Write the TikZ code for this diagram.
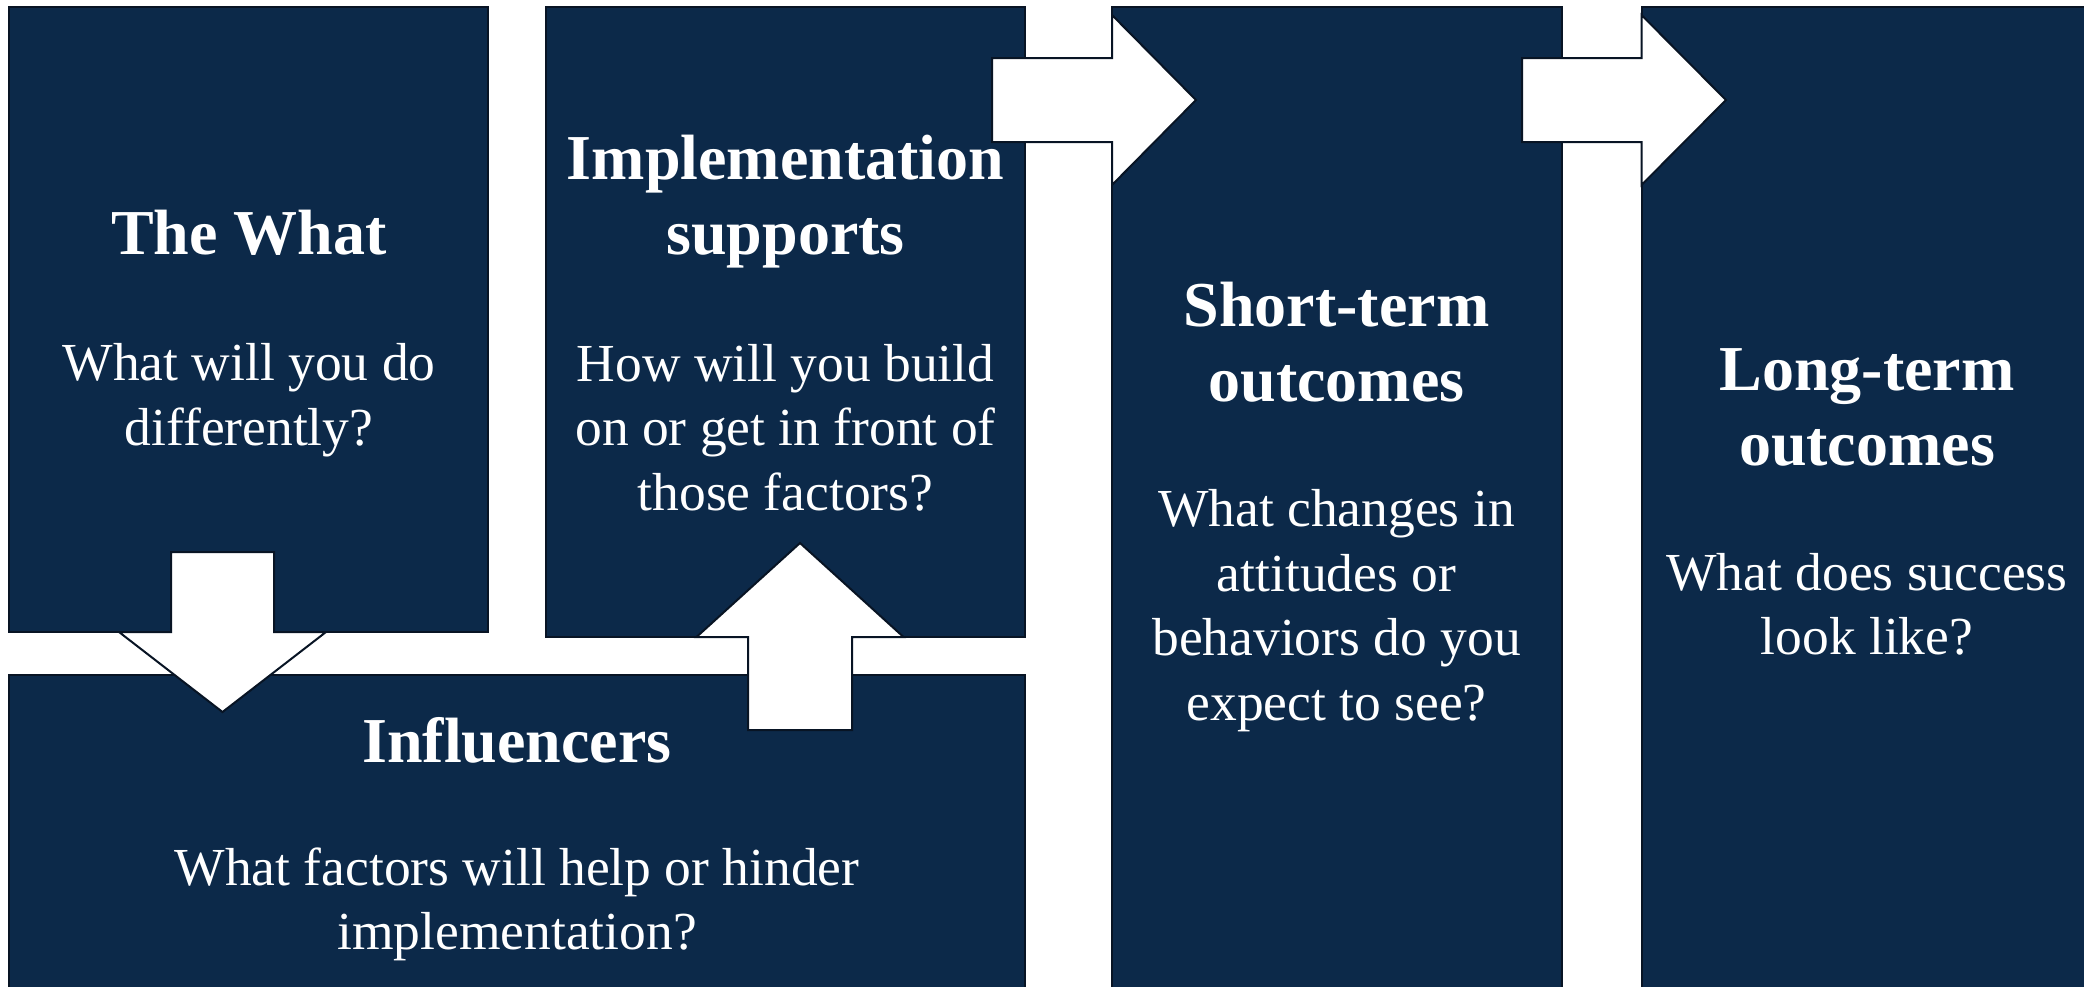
\documentclass[tikz,border=0pt]{standalone}
\usepackage{fontspec}
\setmainfont{Liberation Serif}
\definecolor{panelblue}{RGB}{12,41,73}
\definecolor{edgeblue}{RGB}{8,20,36}

\begin{document}
\begin{tikzpicture}[x=1pt,y=-1pt,
  panel/.style={fill=panelblue,draw=edgeblue,line width=2pt},
  blockarrow/.style={fill=white,draw=edgeblue,line width=2pt,line join=miter},
  head/.style={anchor=base,inner sep=0pt,text=white,
    font=\bfseries\fontsize{64}{75}\selectfont},
  body/.style={anchor=base,inner sep=0pt,text=white,
    font=\fontsize{53.5}{64.5}\selectfont}]
\useasboundingbox (0,0) rectangle (2084,986);
\clip (0,0) rectangle (2084,986);

% panels
\draw[panel] (9,7) rectangle (488,632);
\draw[panel] (546,7) rectangle (1024.5,637);
\draw[panel] (9,675) rectangle (1024.5,1000);
\draw[panel] (1112,7) rectangle (1561.5,1000);
\draw[panel] (1641.5,7) rectangle (2100,1000);

% block arrows
\draw[blockarrow] (171,552) -- (274,552) -- (274,632) -- (326,632)
  -- (222.5,712) -- (119,632) -- (171,632) -- cycle;
\draw[blockarrow] (748,730) -- (852,730) -- (852,637) -- (903.5,637)
  -- (800,543) -- (696.5,637) -- (748,637) -- cycle;
\draw[blockarrow] (992,58) -- (1112,58) -- (1112,15) -- (1196,100)
  -- (1112,185) -- (1112,142) -- (992,142) -- cycle;
\draw[blockarrow] (1522,58) -- (1641.5,58) -- (1641.5,15) -- (1726,100)
  -- (1641.5,185) -- (1641.5,142) -- (1522,142) -- cycle;

% texts
\node[head] (whatH) at (249,254) {The What};
\node[body] (whatB) at (249,380.5)
  {\begin{tabular}[t]{@{}c@{}}What will you do\\differently?\end{tabular}};

\node[head] (implH) at (785.5,179.5)
  {\begin{tabular}[t]{@{}c@{}}Implementation\\supports\end{tabular}};
\node[body] (implB) at (785.5,381)
  {\begin{tabular}[t]{@{}c@{}}How will you build\\on or get in front of\\those factors?\end{tabular}};

\node[head] (inflH) at (517,762.5) {Influencers};
\node[body] (inflB) at (517,885)
  {\begin{tabular}[t]{@{}c@{}}What factors will help or hinder\\implementation?\end{tabular}};

\node[head] (shortH) at (1336.5,326.5)
  {\begin{tabular}[t]{@{}c@{}}Short-term\\outcomes\end{tabular}};
\node[body] (shortB) at (1336.5,526.5)
  {\begin{tabular}[t]{@{}c@{}}What changes in\\attitudes or\\behaviors do you\\expect to see?\end{tabular}};

\node[head] (longH) at (1867,390)
  {\begin{tabular}[t]{@{}c@{}}Long-term\\outcomes\end{tabular}};
\node[body] (longB) at (1867,590)
  {\begin{tabular}[t]{@{}c@{}}What does success\\look like?\end{tabular}};
\end{tikzpicture}
\end{document}
